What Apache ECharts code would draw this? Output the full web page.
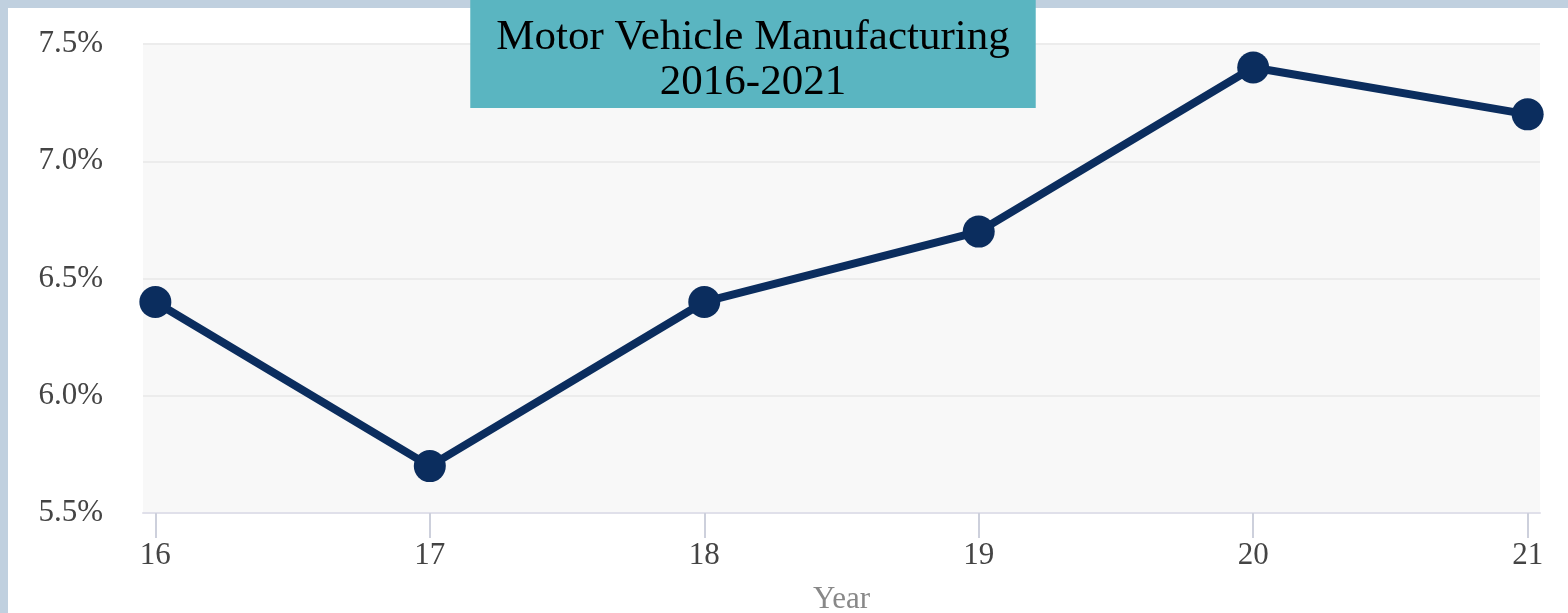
<!DOCTYPE html>
<html>
<head>
<meta charset="utf-8">
<script src="https://cdn.jsdelivr.net/npm/echarts@6/dist/echarts.min.js"></script>
<style>
  html, body { margin: 0; padding: 0; background: #fff; }
  #main { width: 1568px; height: 613px; }
</style>
</head>
<body>
<div id="main"></div>
<script>
// data
var years = [16, 17, 18, 19, 20, 21];
var share = [6.4, 5.7, 6.4, 6.7, 7.4, 7.2];
var yTicks = [5.5, 6.0, 6.5, 7.0, 7.5];

var chart = echarts.init(document.getElementById('main'));

var serif = '"Liberation Serif", "Times New Roman", serif';

var points = years.map(function (y, i) { return [y, share[i]]; });

var option = {
	backgroundColor: '#ffffff',
	animation: false,
	title: {
		text: 'Motor Vehicle Manufacturing\n2016-2021',
		left: 727,
		top: 0,
		padding: [15, 26, 3, 26],
		backgroundColor: '#5ab5c1',
		textAlign: 'center',
		textStyle: {
			color: '#000',
			fontFamily: serif,
			fontWeight: 'normal',
			fontSize: 43,
			lineHeight: 45
		}
	},
	graphic: [
		// frame strips (page decoration)
		{ type: 'rect', left: 0, top: 0, z: -10, shape: { width: 1568, height: 8 }, style: { fill: '#c0d0df' } },
		{ type: 'rect', left: 0, top: 0, z: -10, shape: { width: 8, height: 613 }, style: { fill: '#c0d0df' } }
	],
	grid: {
		left: 143,
		right: 28,
		top: 44,
		bottom: 100,
		outerBoundsMode: 'none',
		containLabel: false,
		show: true,
		backgroundColor: '#f8f8f8',
		borderWidth: 0
	},
	xAxis: {
		type: 'value',
		min: 15.955,
		max: 21.045,
		name: 'Year',
		nameLocation: 'middle',
		nameGap: 71,
		nameTextStyle: { color: '#888', fontFamily: serif, fontSize: 31 },
		axisLine: { show: true, lineStyle: { color: '#e0e0ea', width: 2 } },
		axisTick: { show: true, customValues: years, length: 25, lineStyle: { color: '#cdd0dc', width: 2 } },
		axisLabel: {
			customValues: years,
			color: '#444',
			fontFamily: serif,
			fontSize: 31,
			margin: 27
		},
		splitLine: { show: false }
	},
	yAxis: {
		type: 'value',
		min: 5.5,
		max: 7.5,
		interval: 0.5,
		axisLine: { show: false },
		axisTick: { show: false },
		axisLabel: {
			color: '#444',
			fontFamily: serif,
			fontSize: 31,
			margin: 40,
			padding: [10, 0, 0, 0],
			formatter: function (v) { return v.toFixed(1) + '%'; }
		},
		splitLine: { show: true, lineStyle: { color: '#ececec', width: 2 } }
	},
	series: [{
		name: 'Motor Vehicle Manufacturing',
		type: 'line',
		data: points,
		symbol: 'circle',
		symbolSize: 32,
		lineStyle: { color: '#0b2d5e', width: 8 },
		itemStyle: { color: '#0b2d5e' }
	}]
};

chart.setOption(option);
</script>
</body>
</html>
